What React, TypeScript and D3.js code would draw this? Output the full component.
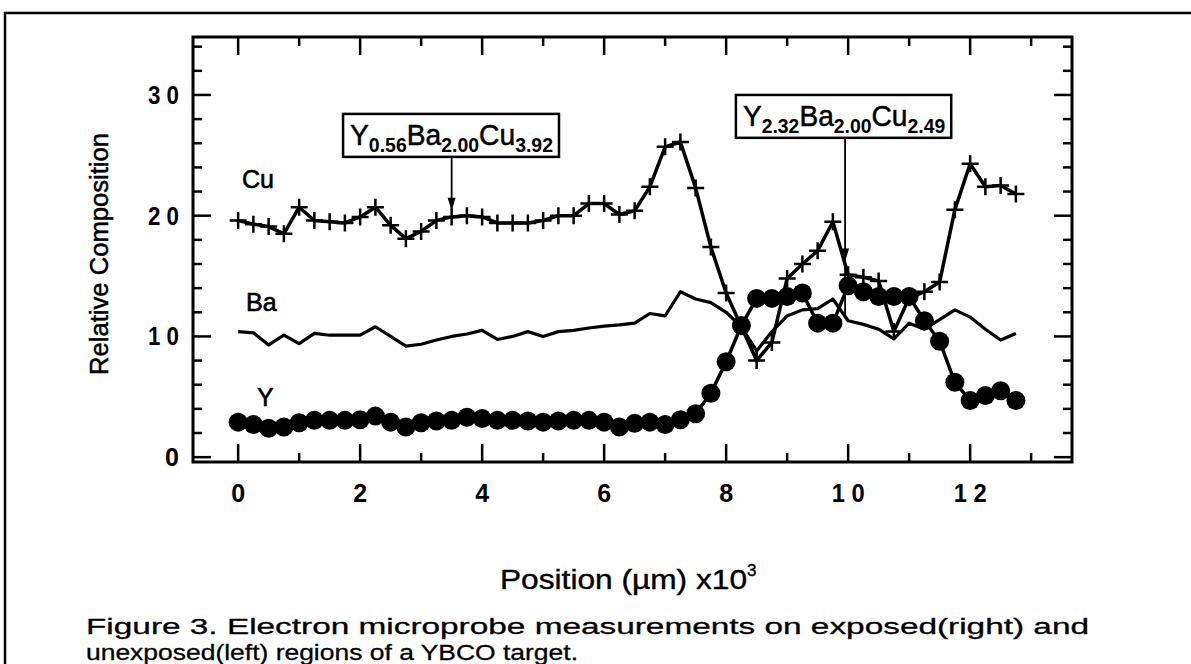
import React, { useEffect, useRef } from 'react';
import * as d3 from 'd3';

// position along the target (um x10^3)
const positions = [
	0, 0.25, 0.5, 0.75, 1, 1.25, 1.5, 1.75, 2, 2.25, 2.5, 2.75, 3, 3.25, 3.5, 3.75,
	4, 4.25, 4.5, 4.75, 5, 5.25, 5.5, 5.75, 6, 6.25, 6.5, 6.75, 7, 7.25, 7.5, 7.75,
	8, 8.25, 8.5, 8.75, 9, 9.25, 9.5, 9.75, 10, 10.25, 10.5, 10.75, 11, 11.25, 11.5, 11.75,
	12, 12.25, 12.5, 12.75,
];

const cuValues = [
	19.6, 19.3, 19.1, 18.5, 20.7, 19.6, 19.5, 19.4, 19.9, 20.7, 19.2, 18.1, 18.7, 19.6, 19.9, 20.0,
	19.9, 19.4, 19.4, 19.4, 19.6, 20.0, 20.0, 21.0, 21.0, 20.1, 20.4, 22.4, 25.7, 26.1, 22.3, 17.4,
	13.6, 10.8, 8.0, 9.5, 14.8, 16.0, 17.1, 19.5, 15.1, 14.9, 14.6, 10.4, 13.2, 13.7, 14.5, 20.5,
	24.3, 22.4, 22.5, 21.8,
];

const baValues = [
	10.4, 10.3, 9.3, 10.1, 9.4, 10.25, 10.1, 10.1, 10.1, 10.8, 10.0, 9.2, 9.35, 9.7, 10.0, 10.2,
	10.5, 9.75, 10.0, 10.4, 10.0, 10.4, 10.5, 10.7, 10.85, 10.95, 11.1, 11.9, 11.7, 13.7, 13.1, 12.8,
	12.0, 10.8, 8.8, 10.4, 11.7, 12.2, 12.3, 13.1, 11.3, 11.0, 10.6, 9.8, 11.1, 10.6, 11.4, 12.2,
	11.6, 10.6, 9.7, 10.25,
];

const yValues = [
	2.9, 2.7, 2.4, 2.5, 2.85, 3.05, 3.05, 3.05, 3.1, 3.4, 2.9, 2.5, 2.85, 3.0, 3.05, 3.3,
	3.2, 3.05, 3.05, 3.0, 2.9, 3.0, 3.05, 3.05, 2.9, 2.5, 2.8, 2.9, 2.7, 3.1, 3.6, 5.3,
	7.9, 10.9, 13.15, 13.15, 13.3, 13.6, 11.1, 11.1, 14.2, 13.7, 13.3, 13.3, 13.3, 11.3, 9.6, 6.2,
	4.7, 5.1, 5.5, 4.7,
];

const xMajorTicks = [0, 2, 4, 6, 8, 10, 12];
const xMinorTicks = [1, 3, 5, 7, 9, 11, 13];
const yMajorTicks = [0, 10, 20, 30];
const yMinorTicks = [2, 4, 6, 8, 12, 14, 16, 18, 22, 24, 26, 28, 32, 34];

const seriesNames = ['Cu', 'Ba', 'Y'];

// compositions shown in the boxes: [element, subscript]
const leftComposition = [['Y', '0.56'], ['Ba', '2.00'], ['Cu', '3.92']];
const rightComposition = [['Y', '2.32'], ['Ba', '2.00'], ['Cu', '2.49']];

const xTitle = 'Position (\u00b5m) x10';
const yTitle = 'Relative Composition';
const captionLines = [
	'Figure 3.  Electron microprobe measurements on exposed(right) and',
	'unexposed(left) regions of a YBCO target.',
];

const FONT = '"Liberation Sans", Arial, Helvetica, sans-serif';

const Chart = () => {
	const ref = useRef<SVGSVGElement>(null);

	useEffect(() => {
		const svg = d3.select(ref.current);
		svg.selectAll('*').remove();

		const left = 193, right = 1072, top = 37, bottom = 462;
		const x = d3.scaleLinear().domain([-0.74, 13.67]).range([left, right]);
		const y = d3.scaleLinear().domain([-0.4, 34.8]).range([bottom, top]);

		// outer figure frame
		svg.append('line').attr('x1', 4).attr('y1', 13).attr('x2', 1191).attr('y2', 13)
			.attr('stroke', '#000').attr('stroke-width', 2.5);
		svg.append('line').attr('x1', 5).attr('y1', 12).attr('x2', 5).attr('y2', 664)
			.attr('stroke', '#000').attr('stroke-width', 2.5);

		// plot box
		svg.append('rect')
			.attr('x', left).attr('y', top)
			.attr('width', right - left).attr('height', bottom - top)
			.attr('fill', 'none').attr('stroke', '#000').attr('stroke-width', 3);

		const ticks = svg.append('g').attr('stroke', '#000').attr('stroke-width', 2.5);
		const addXTicks = (vals: number[], len: number) => {
			vals.forEach(v => {
				ticks.append('line').attr('x1', x(v)).attr('x2', x(v)).attr('y1', bottom).attr('y2', bottom - len);
				ticks.append('line').attr('x1', x(v)).attr('x2', x(v)).attr('y1', top).attr('y2', top + len);
			});
		};
		const addYTicks = (vals: number[], len: number) => {
			vals.forEach(v => {
				ticks.append('line').attr('x1', left).attr('x2', left + len).attr('y1', y(v)).attr('y2', y(v));
				ticks.append('line').attr('x1', right).attr('x2', right - len).attr('y1', y(v)).attr('y2', y(v));
			});
		};
		addXTicks(xMajorTicks, 18);
		addXTicks(xMinorTicks, 9);
		addYTicks(yMajorTicks, 18);
		addYTicks(yMinorTicks, 9);

		const spaced = (v: number) => String(v).split('').join(' ');

		const xl = svg.append('g').selectAll('text').data(xMajorTicks).join('text')
			.attr('x', d => x(d)).attr('y', 502)
			.attr('text-anchor', 'middle')
			.style('font-family', FONT).style('font-weight', 'bold').style('font-size', '25px')
			.text(d => spaced(d));
		xl.filter(d => d >= 10).attr('textLength', 33).attr('lengthAdjust', 'spacingAndGlyphs');

		const yl = svg.append('g').selectAll('text').data(yMajorTicks).join('text')
			.attr('x', 179).attr('y', d => y(d) + 9)
			.attr('text-anchor', 'end')
			.style('font-family', FONT).style('font-weight', 'bold').style('font-size', '25px')
			.text(d => spaced(d));
		yl.filter(d => d >= 10).attr('textLength', 31).attr('lengthAdjust', 'spacingAndGlyphs');

		// axis titles
		const xt = svg.append('text')
			.attr('x', 500).attr('y', 589)
			.style('font-family', FONT).style('font-size', '27px')
			.attr('stroke', '#000').attr('stroke-width', 0.4);
		xt.append('tspan').attr('textLength', 247).attr('lengthAdjust', 'spacingAndGlyphs').text(xTitle);
		xt.append('tspan').attr('dy', -13).style('font-size', '17px').text('3');

		svg.append('text')
			.attr('transform', 'translate(108,254) rotate(-90)')
			.attr('text-anchor', 'middle')
			.attr('textLength', 242).attr('lengthAdjust', 'spacingAndGlyphs')
			.style('font-family', FONT).style('font-size', '26px')
			.attr('stroke', '#000').attr('stroke-width', 0.5)
			.text(yTitle);

		// series
		const rows = positions.map((p, i) => ({ p, cu: cuValues[i], ba: baValues[i], y: yValues[i] }));
		const lineFor = (key: 'cu' | 'ba' | 'y') => d3.line<typeof rows[0]>()
			.x(d => x(d.p)).y(d => y(d[key]));

		svg.append('path').datum(rows)
			.attr('fill', 'none').attr('stroke', '#000').attr('stroke-width', 3.2)
			.attr('stroke-linejoin', 'round')
			.attr('d', lineFor('ba'));

		svg.append('path').datum(rows)
			.attr('fill', 'none').attr('stroke', '#000').attr('stroke-width', 3.5)
			.attr('stroke-linejoin', 'round')
			.attr('d', lineFor('cu'));

		svg.append('g').selectAll('path').data(rows).join('path')
			.attr('d', d => `M${x(d.p) - 8.5},${y(d.cu)}h17M${x(d.p)},${y(d.cu) - 8.5}v17`)
			.attr('stroke', '#000').attr('stroke-width', 2.5);

		svg.append('path').datum(rows)
			.attr('fill', 'none').attr('stroke', '#000').attr('stroke-width', 3.5)
			.attr('stroke-linejoin', 'round')
			.attr('d', lineFor('y'));

		svg.append('g').selectAll('circle').data(rows).join('circle')
			.attr('cx', d => x(d.p)).attr('cy', d => y(d.y)).attr('r', 9.5)
			.attr('fill', '#000');

		// series labels
		const labelPos = [[242, 188], [246, 311], [257, 406]];
		seriesNames.forEach((name, i) => {
			svg.append('text')
				.attr('x', labelPos[i][0]).attr('y', labelPos[i][1])
				.style('font-family', FONT).style('font-size', '25px')
				.attr('stroke', '#000').attr('stroke-width', 0.6)
				.text(name);
		});

		// composition boxes with arrows
		const drawBox = (parts: string[][], x0: number, x1: number, yTop: number, yBot: number) => {
			svg.append('rect')
				.attr('x', x(x0)).attr('y', y(yTop))
				.attr('width', x(x1) - x(x0)).attr('height', y(yBot) - y(yTop))
				.attr('fill', '#fff').attr('stroke', '#000').attr('stroke-width', 2.5);
			const t = svg.append('text')
				.attr('x', x(x0) + 7).attr('y', y(yBot) - 12)
				.attr('textLength', x(x1) - x(x0) - 13).attr('lengthAdjust', 'spacingAndGlyphs')
				.style('font-family', FONT).style('font-size', '29px');
			parts.forEach(([el, sub], i) => {
				t.append('tspan').attr('dy', i === 0 ? 0 : -7)
					.attr('stroke', '#000').attr('stroke-width', 0.5).text(el);
				t.append('tspan').attr('dy', 7).style('font-size', '20px')
					.style('font-weight', 'bold').text(sub);
			});
		};

		const drawArrow = (at: number, fromY: number, tipY: number, toY: number) => {
			svg.append('line')
				.attr('x1', x(at)).attr('x2', x(at)).attr('y1', y(fromY)).attr('y2', y(toY))
				.attr('stroke', '#000').attr('stroke-width', 1.8);
			svg.append('path')
				.attr('d', `M${x(at) - 4},${y(tipY) - 13}L${x(at) + 4},${y(tipY) - 13}L${x(at)},${y(tipY)}Z`)
				.attr('fill', '#000');
		};

		drawArrow(3.5, 24.87, 20.4, 20.4);
		drawBox(leftComposition, 1.72, 5.26, 28.43, 24.87);

		drawArrow(9.95, 26.45, 16.2, 11.5);
		drawBox(rightComposition, 8.16, 11.69, 30.0, 26.45);

		// caption
		const capWidths = [1003, 492];
		captionLines.forEach((line, i) => {
			svg.append('text')
				.attr('x', 86).attr('y', 634 + i * 26)
				.attr('textLength', capWidths[i]).attr('lengthAdjust', 'spacingAndGlyphs')
				.style('font-family', FONT).style('font-size', '22px')
				.attr('stroke', '#000').attr('stroke-width', 0.3)
				.text(line);
		});
	}, []);

	return (
		<svg ref={ref} width={1191} height={664}
			style={{ position: 'absolute', left: 0, top: 0, background: '#fff' }} />
	);
};

export default function App() {
	return <Chart />;
}
